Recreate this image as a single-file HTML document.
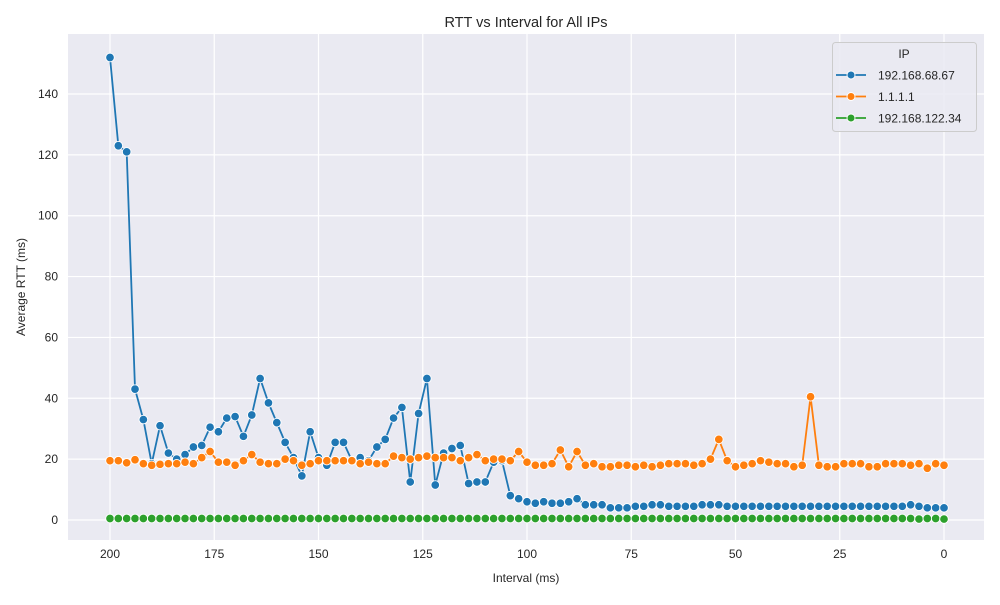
<!DOCTYPE html>
<html><head><meta charset="utf-8"><style>
body{margin:0;background:#fff;font-family:"Liberation Sans",Arial,sans-serif}
</style></head><body>
<svg id="c" width="1000" height="600" xmlns="http://www.w3.org/2000/svg" font-family="Liberation Sans, Arial, sans-serif"></svg>
<script>
const xTicks=[200,175,150,125,100,75,50,25,0];
const yTicks=[0,20,40,60,80,100,120,140];
const seriesNames=["192.168.68.67","1.1.1.1","192.168.122.34"];
const seriesColors=["#1f77b4","#ff7f0e","#2ca02c"];
const blueVals=[152,123,121,43,33,18.5,31,22,20,21.5,
24,24.5,30.5,29,33.5,34,27.5,34.5,46.5,38.5,
32,25.5,20.5,14.5,29,20.5,18,25.5,25.5,19.5,
20.5,19.5,24,26.5,33.5,37,12.5,35,46.5,11.5,
22,23.5,24.5,12,12.5,12.5,19,19.5,8,7,
6,5.5,6,5.5,5.5,6,7,5,5,5,
4,4,4,4.5,4.5,5,5,4.5,4.5,4.5,
4.5,5,5,5,4.5,4.5,4.5,4.5,4.5,4.5,
4.5,4.5,4.5,4.5,4.5,4.5,4.5,4.5,4.5,4.5,
4.5,4.5,4.5,4.5,4.5,4.5,5,4.5,4,4,4];
const orangeVals=[19.5,19.5,18.8,19.8,18.5,18,18.3,18.5,18.5,19,
18.5,20.5,22.5,19,19,18,19.5,21.5,19,18.5,
18.5,20,19.5,18,18.5,19.5,19.5,19.5,19.5,19.5,
18.5,19,18.5,18.5,21,20.5,20,20.5,21,20.5,
20.5,20.5,19.5,20.5,21.5,19.5,20,20,19.5,22.5,
19,18,18,18.5,23,17.5,22.5,18,18.5,17.5,
17.5,18,18,17.5,18,17.5,18,18.5,18.5,18.5,
18,18.5,20,26.5,19.5,17.5,18,18.5,19.5,19,
18.5,18.5,17.5,18,40.5,18,17.5,17.5,18.5,18.5,
18.5,17.5,17.5,18.5,18.5,18.5,18,18.5,17,18.5,18];
const greenVals=[0.5,0.5,0.5,0.5,0.5,0.5,0.5,0.5,0.5,0.5,0.5,0.5,0.5,0.5,0.5,0.5,0.5,0.5,0.5,0.5,
0.5,0.5,0.5,0.5,0.5,0.5,0.5,0.5,0.5,0.5,0.5,0.5,0.5,0.5,0.5,0.5,0.5,0.5,0.5,0.5,
0.5,0.5,0.5,0.5,0.5,0.5,0.5,0.5,0.5,0.5,0.5,0.5,0.5,0.5,0.5,0.5,0.5,0.5,0.5,0.5,
0.5,0.5,0.5,0.5,0.5,0.5,0.5,0.5,0.5,0.5,0.5,0.5,0.5,0.5,0.5,0.5,0.5,0.5,0.5,0.5,
0.5,0.5,0.5,0.5,0.5,0.5,0.5,0.5,0.5,0.5,0.5,0.5,0.5,0.5,0.5,0.5,0.5,0.3,0.5,0.5,0.3];
const intervals=[];for(let v=200;v>=0;v-=2)intervals.push(v);

const NS="http://www.w3.org/2000/svg";
const svg=document.getElementById('c');
function el(t,a,p){const e=document.createElementNS(NS,t);for(const k in a)e.setAttribute(k,a[k]);(p||svg).appendChild(e);return e;}
const L=68,R=984,T=34,B=540;
function X(v){return 110+(200-v)*(944-110)/200;}
function Y(v){return 520-v*(520-94)/140;}
let bg=el('rect',{x:L,y:T,width:R-L,height:B-T,fill:'#eaeaf2'});


xTicks.forEach(t=>{
 let g=el('line',{x1:X(t),x2:X(t),y1:T,y2:B,stroke:'#fff','stroke-width':1.2});
 
 
 let tx=el('text',{x:X(t),y:558,'text-anchor':'middle','font-size':12,fill:'#262626'});
 tx.textContent=t;
 
 
});
yTicks.forEach(t=>{
 let g=el('line',{x1:L,x2:R,y1:Y(t),y2:Y(t),stroke:'#fff','stroke-width':1.2});
 
 
 let tx=el('text',{x:58,y:Y(t)+4,'text-anchor':'end','font-size':12,fill:'#262626'});
 tx.textContent=t;
 
 
});
[blueVals,orangeVals,greenVals].forEach((vals,si)=>{
 const g=el('g',{});
 
 
 const pts=vals.map((v,i)=>X(intervals[i])+','+Y(v)).join(' ');
 let pl=el('polyline',{points:pts,fill:'none',stroke:seriesColors[si],'stroke-width':1.8},g);
 
 
 vals.forEach((v,i)=>{
  let c=el('circle',{cx:X(intervals[i]),cy:Y(v),r:4.3,fill:seriesColors[si],stroke:'#fff','stroke-width':0.9},g);
  
  
 });
});
let title=el('text',{x:526,y:27,'text-anchor':'middle','font-size':14.5,fill:'#262626'});
title.textContent='RTT vs Interval for All IPs';


let xt=el('text',{x:526,y:582,'text-anchor':'middle','font-size':12,fill:'#262626'});
xt.textContent='Interval (ms)';


let yt=el('text',{x:25,y:287,'text-anchor':'middle','font-size':12,fill:'#262626',transform:'rotate(-90 25 287)'});
yt.textContent='Average RTT (ms)';


const lg=el('g',{});


el('rect',{x:832.5,y:42.5,width:144,height:89,rx:3,fill:'#eaeaf2','fill-opacity':0.85,stroke:'#cccccc'},lg);
let lt=el('text',{x:904,y:58,'text-anchor':'middle','font-size':12,fill:'#262626'},lg);
lt.textContent='IP';
seriesNames.forEach((n,i)=>{
 const y=75+i*21.5;
 const e=el('g',{},lg);
 
 
 el('line',{x1:836,x2:866,y1:y,y2:y,stroke:seriesColors[i],'stroke-width':1.8},e);
 el('circle',{cx:851,cy:y,r:4,fill:seriesColors[i],stroke:'#fff','stroke-width':0.9},e);
 let t=el('text',{x:878,y:y+4.5,'font-size':12,fill:'#262626'},e);
 t.textContent=n;
});
</script>
</body></html>
